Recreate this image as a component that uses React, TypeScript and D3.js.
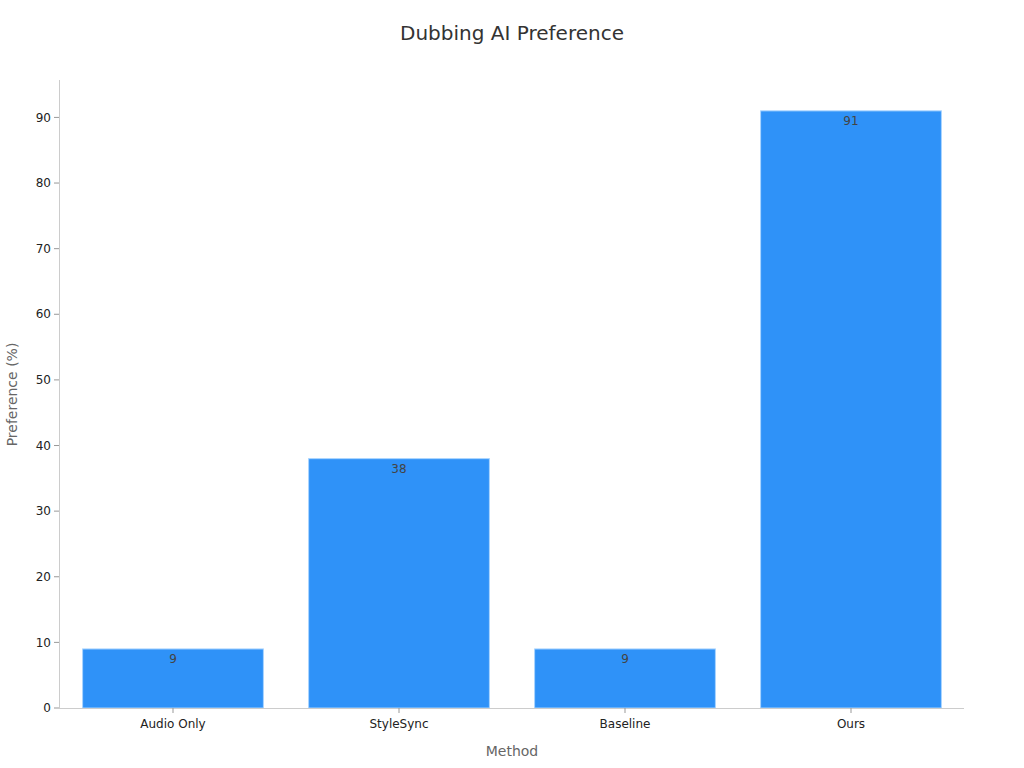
import React from "react";
import * as d3 from "d3";

const categories = ["Audio Only", "StyleSync", "Baseline", "Ours"];
const values = [9, 38, 9, 91];
const yTicks = [0, 10, 20, 30, 40, 50, 60, 70, 80, 90];
const title = "Dubbing AI Preference";
const xLabel = "Method";
const yLabel = "Preference (%)";

const W = 1024;
const H = 768;
const margin = { left: 60, right: 60, top: 81, bottom: 60 };
const FONT = "DejaVu Sans, sans-serif";

export default function App() {
  const x = d3
    .scaleBand<string>()
    .domain(categories)
    .range([margin.left, W - margin.right])
    .paddingInner(0.2)
    .paddingOuter(0.1);
  const y = d3
    .scaleLinear()
    .domain([0, d3.max(values)! * 1.05])
    .range([H - margin.bottom, margin.top]);
  const y0 = y(0);

  return (
    <svg
      width={W}
      height={H}
      style={{ position: "absolute", left: 0, top: 0, background: "#fff" }}
      fontFamily={FONT}
    >
      <text x={512} y={40} textAnchor="middle" fontSize={20} fill="#333">
        {title}
      </text>
      {categories.map((c, i) => (
        <g key={c}>
          <rect
            x={x(c)!}
            y={y(values[i])}
            width={x.bandwidth()}
            height={y0 - y(values[i])}
            fill="#2f92f8"
            stroke="#a9d4ff"
            strokeWidth={1}
          />
          <text
            x={x(c)! + x.bandwidth() / 2}
            y={y(values[i]) + 14}
            textAnchor="middle"
            fontSize={12}
            fill="#444"
          >
            {values[i]}
          </text>
        </g>
      ))}
      <line x1={margin.left - 0.5} x2={margin.left - 0.5} y1={margin.top - 1} y2={y0} stroke="#ccc" />
      {yTicks.map((t) => (
        <g key={t}>
          <line x1={margin.left - 6} x2={margin.left - 1} y1={y(t)} y2={y(t)} stroke="#999" />
          <text x={margin.left - 9} y={y(t)} dy="0.35em" textAnchor="end" fontSize={12} fill="#222">
            {t}
          </text>
        </g>
      ))}
      <line x1={margin.left - 1} x2={W - margin.right} y1={y0 + 0.5} y2={y0 + 0.5} stroke="#ccc" />
      {categories.map((c) => {
        const cx = x(c)! + x.bandwidth() / 2;
        return (
          <g key={c}>
            <line x1={cx} x2={cx} y1={y0} y2={y0 + 5} stroke="#999" />
            <text x={cx} y={y0 + 20} textAnchor="middle" fontSize={12} fill="#222">
              {c}
            </text>
          </g>
        );
      })}
      <text x={512} y={756} textAnchor="middle" fontSize={14} fill="#666">
        {xLabel}
      </text>
      <text
        transform={`translate(17, ${(margin.top + y0) / 2}) rotate(-90)`}
        textAnchor="middle"
        fontSize={14}
        fill="#666"
      >
        {yLabel}
      </text>
    </svg>
  );
}
